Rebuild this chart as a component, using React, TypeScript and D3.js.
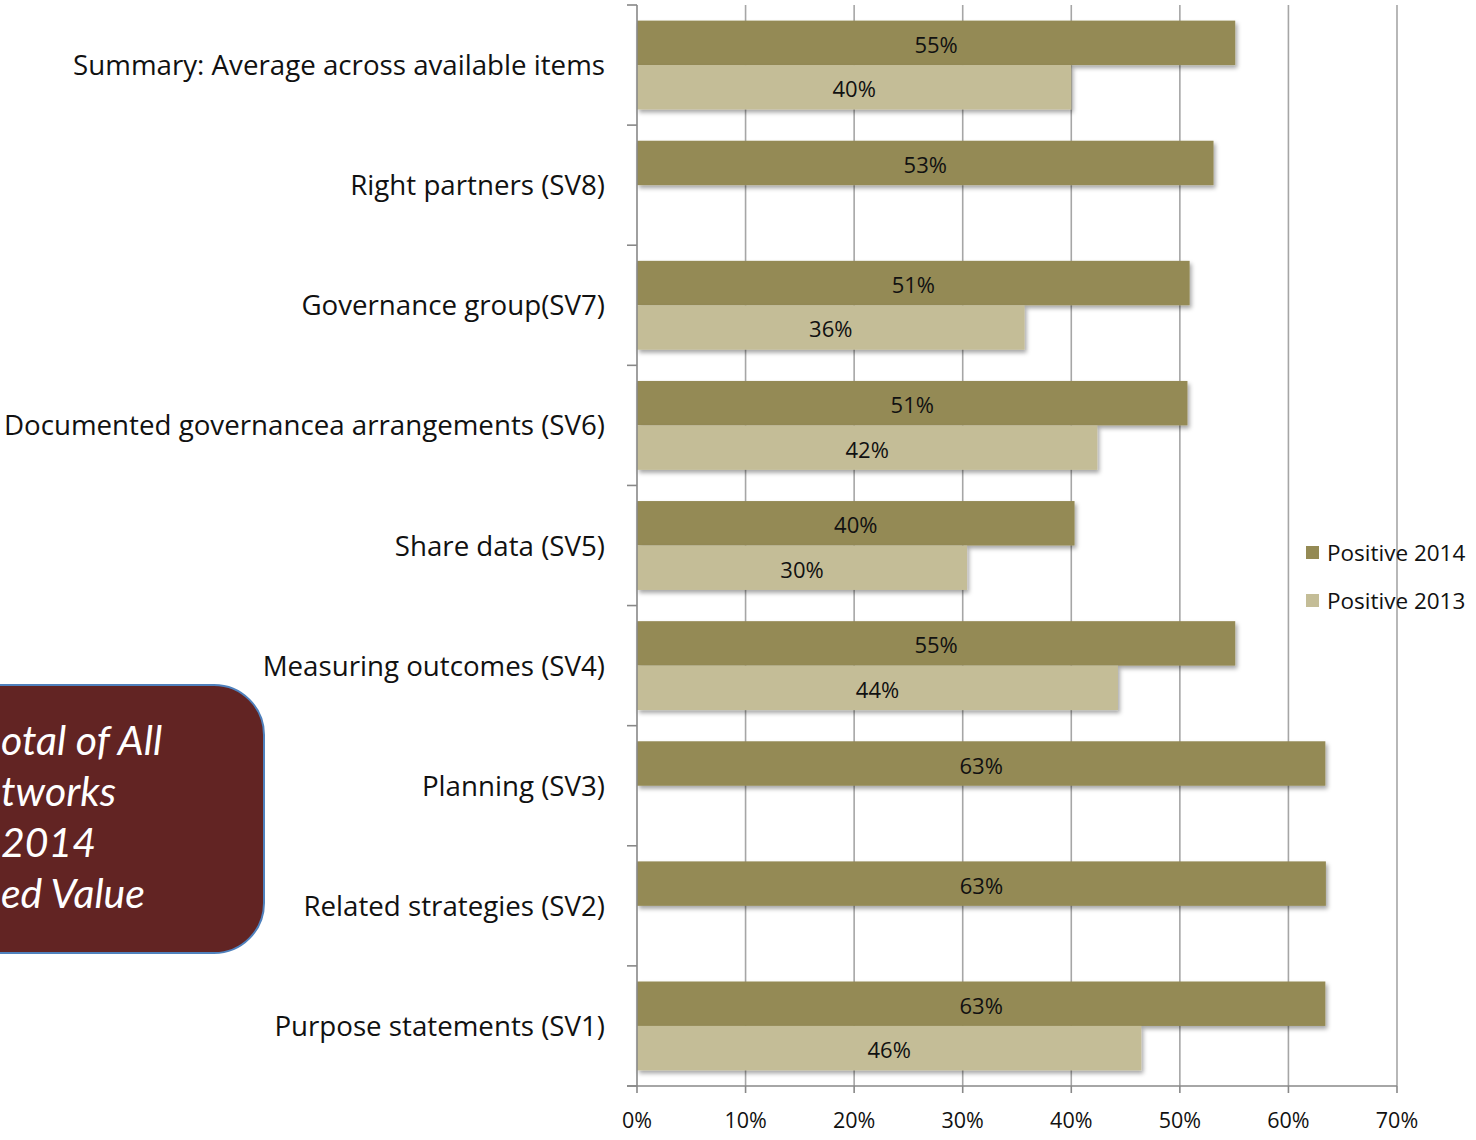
import React from "react";
import * as d3 from "d3";

const categories = [
  "Summary: Average across available items",
  "Right partners (SV8)",
  "Governance group(SV7)",
  "Documented governancea arrangements (SV6)",
  "Share data (SV5)",
  "Measuring outcomes (SV4)",
  "Planning (SV3)",
  "Related strategies (SV2)",
  "Purpose statements (SV1)",
];
const positive2014 = [55.1, 53.1, 50.9, 50.7, 40.3, 55.1, 63.4, 63.45, 63.4];
const positive2013: (number | null)[] = [40.0, null, 35.7, 42.4, 30.4, 44.3, null, null, 46.45];
const series = ["Positive 2014", "Positive 2013"];
const colors = ["#948A54", "#C4BD97"];
const xTicks = [0, 10, 20, 30, 40, 50, 60, 70];
const boxLines = ["otal of All", "tworks", "2014", "ed Value"];

const W = 1476;
const H = 1140;
const FONT = "'Open Sans', sans-serif";

export default function App() {
  const x = d3.scaleLinear().domain([0, 70]).range([637, 1397]);
  const y = d3.scaleBand<string>().domain(categories).range([5, 1086]).paddingInner(0.26).paddingOuter(0.13);
  const sub = d3.scaleBand<string>().domain(series).range([0, y.bandwidth()]);
  const boundaries = d3.range(categories.length + 1).map((i) => 5 + i * ((1086 - 5) / categories.length));

  return (
    <svg width={W} height={H} style={{ position: "absolute", left: 0, top: 0, background: "#fff" }}>
      <defs>
        <filter id="sh" x="-5%" y="-20%" width="115%" height="160%">
          <feDropShadow dx="2" dy="3" stdDeviation="2.2" floodColor="#000" floodOpacity="0.35" />
        </filter>
      </defs>
      <rect x={0} y={0} width={W} height={H} fill="#fff" />
      {xTicks.slice(1).map((t) => (
        <line key={t} x1={x(t)} x2={x(t)} y1={5} y2={1086} stroke="#A6A6A6" strokeWidth={1.6} />
      ))}
      {categories.map((c, i) => {
        const y0 = y(c)!;
        const vals = [positive2014[i], positive2013[i]];
        return (
          <g key={c}>
            {vals.map((v, j) =>
              v == null ? null : (
                <g key={j}>
                  <rect
                    x={x(0)}
                    y={y0 + sub(series[j])!}
                    width={x(v) - x(0)}
                    height={sub.bandwidth()}
                    fill={colors[j]}
                    filter="url(#sh)"
                  />
                  <text
                    x={(x(0) + x(v)) / 2}
                    y={y0 + sub(series[j])! + sub.bandwidth() / 2 + 10}
                    textAnchor="middle"
                    fontFamily={FONT}
                    fontSize={22}
                    fill="#111"
                  >
                    {Math.round(v)}%
                  </text>
                </g>
              )
            )}
            <text
              x={605}
              y={y0 + y.bandwidth() / 2 + 10}
              textAnchor="end"
              fontFamily={FONT}
              fontSize={27.7}
              fill="#111"
            >
              {c}
            </text>
          </g>
        );
      })}
      <line x1={637} x2={637} y1={5} y2={1086} stroke="#888" strokeWidth={1.6} />
      {boundaries.map((b, i) => (
        <line key={i} x1={627} x2={637} y1={b} y2={b} stroke="#888" strokeWidth={1.6} />
      ))}
      <line x1={627} x2={x(70)} y1={1086} y2={1086} stroke="#888" strokeWidth={1.6} />
      {xTicks.map((t) => (
        <g key={t}>
          <line x1={x(t)} x2={x(t)} y1={1086} y2={1093} stroke="#888" strokeWidth={1.6} />
          <text x={x(t)} y={1128} textAnchor="middle" fontFamily={FONT} fontSize={21.5} fill="#111">
            {t}%
          </text>
        </g>
      ))}
      {series.map((s, i) => (
        <g key={s}>
          <rect x={1306} y={546 + i * 48} width={13} height={13} fill={colors[i]} />
          <text x={1327} y={561 + i * 48} fontFamily={FONT} fontSize={22.5} fill="#111">
            {s}
          </text>
        </g>
      ))}
      <rect x={-60} y={685} width={324} height={268} rx={50} ry={50} fill="#622423" stroke="#4F81BD" strokeWidth={2} />
      {boxLines.map((l, i) => (
        <text
          key={l}
          x={1}
          y={755 + i * 51}
          fontFamily="Lato, sans-serif"
          fontStyle="italic"
          fontSize={41}
          fill="#fff"
        >
          {l}
        </text>
      ))}
    </svg>
  );
}
